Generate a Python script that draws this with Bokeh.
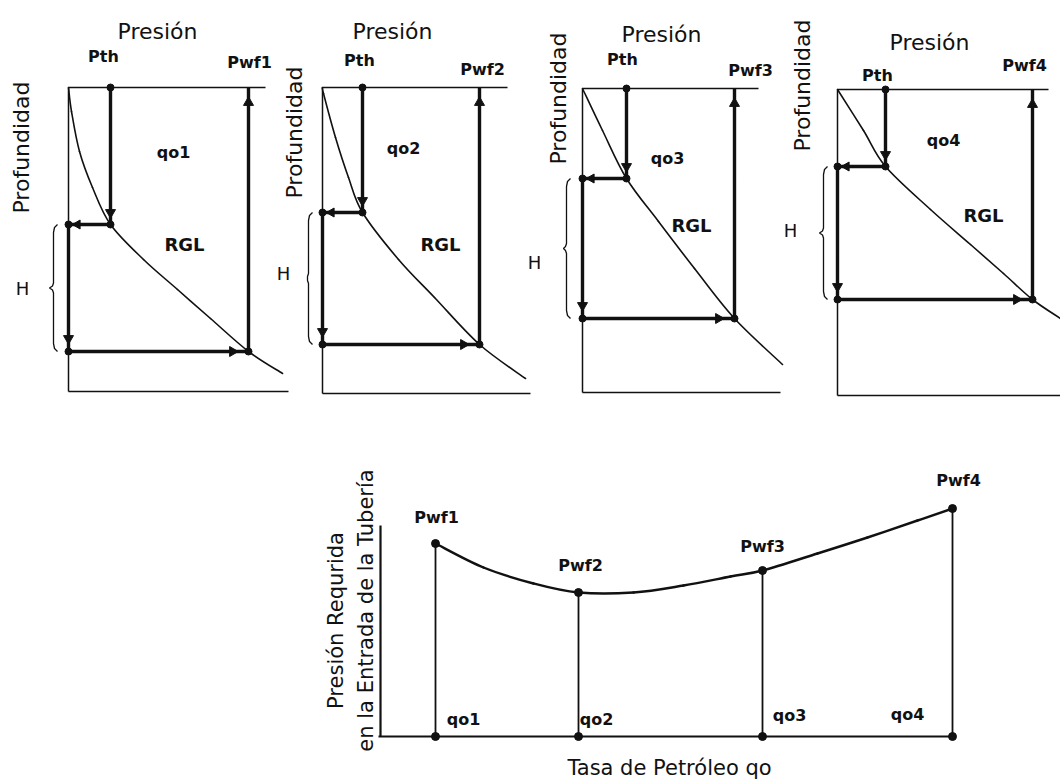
import math
from bokeh.plotting import figure
from bokeh.models import Range1d
from bokeh.core.properties import value
from bokeh.embed import file_html
from bokeh.resources import INLINE

# ---------------- data (arbitrary drawing units) ----------------
# Top row: four pressure-traverse diagrams, one per oil rate
rate_labels = ["qo1", "qo2", "qo3", "qo4"]
pwf_labels = ["Pwf1", "Pwf2", "Pwf3", "Pwf4"]
pth_label = "Pth"
gradient_label = "RGL"
pressure_title = "Presión"
depth_title = "Profundidad"
span_label = "H"

pth_values = [42, 40, 44, 48]          # wellhead pressure
pwf_values = [180, 157, 152, 195]      # bottom-hole flowing pressure
depth_at_pth = [137, 125, 90, 77]      # depth where traverse reaches Pth
well_depth = [264, 257, 230, 210]      # depth of the well bottom

traverse_p = [
    [0, 3, 11, 24, 42, 75, 109, 142, 180, 214],
    [0, 1, 13, 26, 40, 76, 112, 157, 203],
    [0, 20, 44, 76, 112, 152, 200],
    [0, 26, 48, 93, 133, 166, 195, 223],
]
traverse_d = [
    [0, 24, 64, 100, 137, 172, 202, 231, 264, 286],
    [0, 6, 50, 90, 125, 172, 210, 257, 291],
    [0, 42, 90, 133, 180, 230, 276],
    [0, 41, 77, 120, 155, 184, 210, 229],
]

# Bottom chart: required inlet pressure vs oil rate
qo_values = [55, 198, 382, 572]
pwf_required = [193, 144, 166, 228]
curve_qo = [55, 103, 153, 198, 253, 303, 350, 382, 437, 487, 537, 572]
curve_pwf = [193, 169, 153, 144, 144, 151, 160, 166, 183, 199, 216, 228]
bottom_ylabel = ["Presión Requrida", "en la Entrada de la Tubería"]
bottom_xlabel = "Tasa de Petróleo qo"

# ---------------- layout / style (not data) ----------------
W, H = 1060, 781
INK = "#111111"
panel_origin = [(68, 87), (322, 87), (582, 88), (837, 89)]
bottom_origin = (380, 736)
axis_depth = [304, 306, 304, 306]
surface_len = [197, 185, 176, 211]
axis_len = [220, 208, 198, 223]
presion_pos = [(89, -56), (70, -56), (79, -54), (92, -47)]
prof_pos = [(-47, 60), (-28, 45), (-24, 10), (-35, -4)]
pth_lab_off = [(-7, -31), (-3, -27), (-4, -29), (-8, -14)]
pwf_lab_off = [(1, -25), (3, -18), (16, -18), (-8, -24)]
qo_lab_pos = [(105, 65), (81, 61), (85, 70), (106, 51)]
rgl_pos = [(116, 157), (118, 157), (109, 137), (146, 126)]
brace_x = [-15, -14, -16, -14]
brace_cusp = [4, 1, 3, 4]
h_lab = [(-46, 0), (-39, -5), (-48, 14), (-47, -3)]
bottom_pwf_lab_off = [(1, 26), (2, 27), (0, 24), (6, 28)]
bottom_qo_lab_off = [(28, 17), (18, 17), (27, 21), (-45, 22)]
bottom_yaxis_top = 211
bottom_xlabel_pos = (289, -31)
bottom_ylabel_pos = [(-45, 116), (-15, 126)]

LABEL_FONT = value("DejaVu Sans")
TITLE_FONT = value("DejaVu Sans")

# ---------------- figure with one scale pair per panel ----------------
xr, yr = {}, {}
for k, (ox, oy) in enumerate(panel_origin):
    xr[f"px{k}"] = Range1d(-ox, W - ox)
    yr[f"py{k}"] = Range1d(H - oy, -oy)          # depth grows downward
xr["bx"] = Range1d(-bottom_origin[0], W - bottom_origin[0])
yr["by"] = Range1d(bottom_origin[1] - H, bottom_origin[1])

p = figure(width=W, height=H, x_range=Range1d(0, W), y_range=Range1d(H, 0),
           x_axis_type=None, y_axis_type=None, output_backend="svg",
           toolbar_location=None, min_border=0, outline_line_color=None,
           background_fill_color="white", border_fill_color="white")
p.extra_x_ranges = xr
p.extra_y_ranges = yr


def label(x, y, t, rn, font=LABEL_FONT, size="16px", style="bold", angle=0.0):
    p.text(x=[x], y=[y], text=[t], text_font=font, text_font_size=size,
           text_font_style=style, text_color=INK, text_align="center",
           text_baseline="middle", angle=angle,
           x_range_name=rn[0], y_range_name=rn[1])


def smooth_curve(xs, ys, width, rn):
    """Draw a smooth curve passing exactly through the read points
    (Catmull-Rom segments rendered with Bokeh's bezier glyph)."""
    n = len(xs)
    seg = dict(x0=[], y0=[], x1=[], y1=[], cx0=[], cy0=[], cx1=[], cy1=[])
    for i in range(n - 1):
        a = max(i - 1, 0)
        d = min(i + 2, n - 1)
        seg["x0"].append(xs[i]); seg["y0"].append(ys[i])
        seg["x1"].append(xs[i + 1]); seg["y1"].append(ys[i + 1])
        seg["cx0"].append(xs[i] + (xs[i + 1] - xs[a]) / 6)
        seg["cy0"].append(ys[i] + (ys[i + 1] - ys[a]) / 6)
        seg["cx1"].append(xs[i + 1] - (xs[d] - xs[i]) / 6)
        seg["cy1"].append(ys[i + 1] - (ys[d] - ys[i]) / 6)
    p.bezier(line_color=INK, line_width=width, line_cap="round",
             x_range_name=rn[0], y_range_name=rn[1], **seg)


for k in range(4):
    rn = (f"px{k}", f"py{k}")
    kw = dict(x_range_name=rn[0], y_range_name=rn[1])
    pth, pwf = pth_values[k], pwf_values[k]
    dpt, dw = depth_at_pth[k], well_depth[k]

    # frame lines: surface, left depth axis, bottom line
    p.line([0, surface_len[k]], [0, 0], line_color=INK, line_width=1.5, **kw)
    p.line([0, 0], [0, axis_depth[k]], line_color=INK, line_width=1.5, **kw)
    p.line([0, axis_len[k]], [axis_depth[k], axis_depth[k]], line_color=INK,
           line_width=1.6, **kw)

    # pressure traverse curve (RGL)
    smooth_curve(traverse_p[k], traverse_d[k], 1.6, rn)

    # construction path
    p.line([pth, pth, 0, 0, pwf, pwf], [0, dpt, dpt, dw, dw, 0],
           line_color=INK, line_width=3.4, line_join="miter", **kw)

    # arrowheads
    p.scatter([pth, 0], [dpt - 12, dw - 13], marker="inverted_triangle",
              size=10, color=INK, **kw)
    p.scatter([pwf], [15], marker="triangle", size=10, color=INK, **kw)
    p.scatter([9], [dpt], marker="triangle", angle=math.pi / 2, size=9,
              color=INK, **kw)
    p.scatter([pwf - 16], [dw], marker="triangle", angle=-math.pi / 2,
              size=10, color=INK, **kw)

    # junction dots
    p.scatter([pth, pth, 0, 0, pwf], [0, dpt, dpt, dw, dw], marker="circle",
              size=7, color=INK, **kw)

    # brace marking H
    xb, c = brace_x[k], brace_cusp[k]
    t, b = dpt, dw
    m = (t + b) / 2
    bxs = [xb + 4, xb + 1, xb, xb, xb - 1, xb - c, xb - 1, xb, xb, xb + 1, xb + 4]
    bys = [t, t + 3, t + 8, m - 5, m - 2, m, m + 2, m + 5, b - 8, b - 3, b]
    p.line(bxs, bys, line_color=INK, line_width=1.3, **kw)
    label(h_lab[k][0], m + h_lab[k][1], span_label, rn, font=TITLE_FONT,
          size="18px", style="normal")

    # texts
    label(presion_pos[k][0], presion_pos[k][1], pressure_title, rn,
          font=TITLE_FONT, size="22px", style="normal")
    label(prof_pos[k][0], prof_pos[k][1], depth_title, rn, font=TITLE_FONT,
          size="22px", style="normal", angle=math.pi / 2)
    label(pth + pth_lab_off[k][0], pth_lab_off[k][1], pth_label, rn)
    label(pwf + pwf_lab_off[k][0], pwf_lab_off[k][1], pwf_labels[k], rn)
    label(qo_lab_pos[k][0], qo_lab_pos[k][1], rate_labels[k], rn)
    label(rgl_pos[k][0], rgl_pos[k][1], gradient_label, rn, size="18px")

# ---------------- bottom chart ----------------
rn = ("bx", "by")
kw = dict(x_range_name="bx", y_range_name="by")
p.line([0, 0], [0, bottom_yaxis_top], line_color=INK, line_width=2.2, **kw)
p.line([-2, qo_values[-1]], [0, 0], line_color=INK, line_width=2.2, **kw)
for q, pw in zip(qo_values, pwf_required):
    p.line([q, q], [0, pw], line_color=INK, line_width=1.8, **kw)
smooth_curve(curve_qo, curve_pwf, 2.4, rn)
p.scatter(qo_values, pwf_required, marker="circle", size=8, color=INK, **kw)
p.scatter(qo_values, [0] * len(qo_values), marker="circle", size=8,
          color=INK, **kw)
for i in range(4):
    label(qo_values[i] + bottom_pwf_lab_off[i][0],
          pwf_required[i] + bottom_pwf_lab_off[i][1], pwf_labels[i], rn)
    label(qo_values[i] + bottom_qo_lab_off[i][0], bottom_qo_lab_off[i][1],
          rate_labels[i], rn)
p.text(x=[bottom_xlabel_pos[0]], y=[bottom_xlabel_pos[1]], text=[bottom_xlabel],
       text_font=TITLE_FONT, text_font_size="21px", text_color=INK,
       text_align="center", text_baseline="middle", **kw)
for (lx, ly), t in zip(bottom_ylabel_pos, bottom_ylabel):
    label(lx, ly, t, rn, font=TITLE_FONT, size="21px", style="normal",
          angle=math.pi / 2)

open("out.html", "w").write(file_html(p, INLINE))
